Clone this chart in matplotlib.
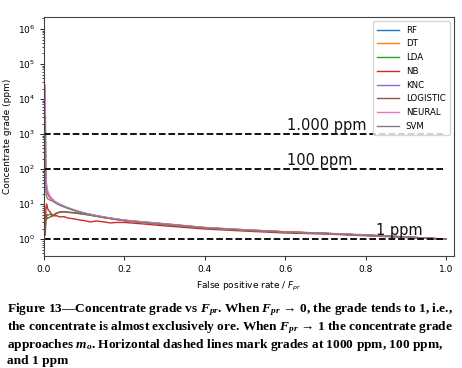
import matplotlib
matplotlib.use("Agg")
import matplotlib.pyplot as plt

plt.rcParams['mathtext.fontset'] = 'custom'
plt.rcParams['mathtext.rm'] = 'Liberation Serif:bold'
plt.rcParams['mathtext.it'] = 'Liberation Serif:italic:bold'
plt.rcParams['mathtext.bf'] = 'Liberation Serif:bold'

# ---- data ----
fpr = [0.003, 0.004, 0.005, 0.0065, 0.008, 0.01, 0.015, 0.02, 0.025, 0.03, 0.04,
       0.05, 0.06, 0.075, 0.09, 0.1, 0.115, 0.13, 0.15, 0.165, 0.18, 0.2, 0.25, 0.3,
       0.4, 0.5, 0.6, 0.7, 0.8, 0.9, 1.0]

rf = [8000, 120, 45, 28, 22, 19, 15.5, 13.8, 12.3, 11.3, 9.8, 8.7, 7.8, 6.8, 6.0,
      5.6, 5.1, 4.7, 4.25, 3.95, 3.75, 3.45, 3.05, 2.72, 2.12, 1.84, 1.61, 1.46, 1.3, 1.15, 1.0]
dt = [6000, 100, 40, 26, 21, 18, 15, 13.2, 12.0, 11.0, 9.5, 8.5, 7.7, 6.7, 5.9,
      5.5, 5.05, 4.65, 4.25, 3.95, 3.75, 3.47, 3.07, 2.75, 2.15, 1.86, 1.63, 1.48, 1.33, 1.16, 1.0]
lda = [1.5, 4.0, 5.0, 4.5, 5.0, 4.8, 5.2, 4.6, 5.0, 5.3, 5.9, 6.0, 5.8, 5.6, 5.3,
       5.1, 4.8, 4.5, 4.1, 3.9, 3.7, 3.4, 3.0, 2.65, 2.1, 1.8, 1.6, 1.45, 1.3, 1.15, 1.0]
nb = [1.3, 2.5, 8.0, 10.0, 8.5, 7.0, 6.0, 5.0, 4.6, 4.7, 4.3, 4.4, 4.0, 3.8, 3.5,
      3.4, 3.1, 3.3, 3.1, 2.9, 3.0, 3.0, 2.7, 2.4, 1.95, 1.7, 1.5, 1.4, 1.25, 1.12, 1.0]
knc = [20000, 150, 50, 30, 24, 20, 16, 14, 12.2, 11.1, 9.6, 8.5, 7.7, 6.7, 5.9,
       5.5, 5.0, 4.6, 4.2, 3.95, 3.75, 3.45, 3.05, 2.72, 2.13, 1.84, 1.61, 1.46, 1.3, 1.15, 1.0]
logistic = [1.4, 3.0, 3.5, 3.8, 4.2, 4.0, 4.3, 4.5, 5.0, 5.5, 6.0, 6.1, 5.9, 5.7, 5.4,
            5.2, 4.9, 4.6, 4.2, 3.9, 3.7, 3.4, 3.0, 2.65, 2.1, 1.8, 1.6, 1.45, 1.3, 1.15, 1.0]
neural = [25000, 200, 60, 35, 27, 22, 17, 14.5, 12.5, 11.3, 9.7, 8.6, 7.8, 6.8, 6.0,
          5.6, 5.1, 4.7, 4.3, 4.0, 3.8, 3.5, 3.1, 2.75, 2.15, 1.85, 1.62, 1.46, 1.3, 1.15, 1.0]
svm = [3000, 40, 20, 16, 15, 14, 13, 12.5, 11.5, 10.5, 9.2, 8.3, 7.5, 6.6, 5.8,
       5.4, 4.9, 4.5, 4.1, 3.85, 3.6, 3.35, 2.95, 2.65, 2.1, 1.8, 1.6, 1.45, 1.3, 1.15, 1.0]

labels = ["RF", "DT", "LDA", "NB", "KNC", "LOGISTIC", "NEURAL", "SVM"]
series = [rf, dt, lda, nb, knc, logistic, neural, svm]
colors = ["#1f77b4", "#ff7f0e", "#2ca02c", "#d62728", "#9467bd", "#8c564b", "#e377c2", "#7f7f7f"]

ref_grades = [1000, 100, 1]
ref_labels = ["1.000 ppm", "100 ppm", "1 ppm"]
ref_label_x = [0.605, 0.605, 0.825]

caption_lines = [
    "Figure 13—Concentrate grade vs $F_{pr}$. When $F_{pr}$ → 0, the grade tends to 1, i.e.,",
    "the concentrate is almost exclusively ore. When $F_{pr}$ → 1 the concentrate grade",
    "approaches $m_o$. Horizontal dashed lines mark grades at 1000 ppm, 100 ppm,",
    "and 1 ppm",
]

# ---- figure ----
fig = plt.figure(figsize=(4.62, 3.68), dpi=100)
ax = fig.add_axes([0.0952, 0.3043, 0.8875, 0.6495])

for y, lab, c in zip(series, labels, colors):
    ax.plot(fpr, y, color=c, lw=1.0, label=lab)

for g, t, tx in zip(ref_grades, ref_labels, ref_label_x):
    ax.hlines(g, 0, 1.0, colors="k", linestyles="--", lw=1.3)
    ax.text(tx, g * 1.08, t, fontsize=10.5, ha="left", va="bottom", color="#111111")

ax.set_yscale("log")
ax.set_xlim(0, 1.02)
ax.set_ylim(0.33, 2.2e6)
ax.set_xticks([0.0, 0.2, 0.4, 0.6, 0.8, 1.0])
ax.tick_params(labelsize=6.5, length=3, width=0.6)
ax.tick_params(which="minor", length=1.5, width=0.5)
for s in ax.spines.values():
    s.set_linewidth(0.8)
    s.set_color("#444444")

ax.set_ylabel("Concentrate grade (ppm)", fontsize=6.5)
ax.set_xlabel("False positive rate / $F_{pr}$", fontsize=6.5, math_fontfamily="dejavusans")

ax.legend(loc="upper right", fontsize=6.2, handlelength=2.5, labelspacing=0.55,
          borderpad=0.5, framealpha=0.8)

fig.text(7 / 462, 1 - 334 / 368, "\n".join(caption_lines), fontsize=9.6, fontweight="bold",
         family=["Liberation Serif", "DejaVu Serif"], va="center", ha="left",
         linespacing=1.12)

fig.savefig("out.png", dpi=100)
